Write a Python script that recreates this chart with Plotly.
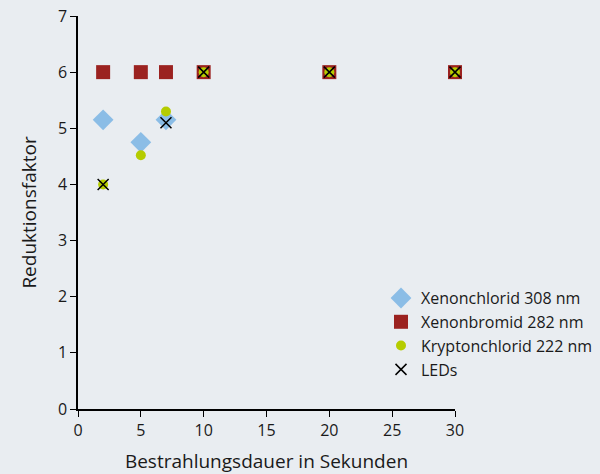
import plotly.graph_objects as go

xenonchlorid_x = [2, 5, 7]
xenonchlorid_y = [5.15, 4.75, 5.15]
xenonbromid_x = [2, 5, 7, 10, 20, 30]
xenonbromid_y = [6, 6, 6, 6, 6, 6]
krypton_x = [2, 5, 7, 10, 20, 30]
krypton_y = [4.0, 4.52, 5.3, 6, 6, 6]
led_x = [2, 7, 10, 20, 30]
led_y = [4.0, 5.1, 6, 6, 6]

FONT = "Open Sans"
fig = go.Figure()
fig.add_trace(go.Scatter(x=xenonchlorid_x, y=xenonchlorid_y, mode="markers",
                         name="Xenonchlorid 308 nm", cliponaxis=False,
                         marker=dict(symbol="diamond", size=16, color="#8bbde6")))
fig.add_trace(go.Scatter(x=xenonbromid_x, y=xenonbromid_y, mode="markers",
                         name="Xenonbromid 282 nm", cliponaxis=False,
                         marker=dict(symbol="square", size=14, color="#9b2220")))
fig.add_trace(go.Scatter(x=krypton_x, y=krypton_y, mode="markers",
                         name="Kryptonchlorid 222 nm", cliponaxis=False,
                         marker=dict(symbol="circle", size=10, color="#b5cc00")))
fig.add_trace(go.Scatter(x=led_x, y=led_y, mode="markers",
                         name="LEDs", cliponaxis=False,
                         marker=dict(symbol="x-thin-open", size=11,
                                     line=dict(color="black", width=1.5), color="black")))

fig.update_layout(
    width=600, height=474,
    paper_bgcolor="#e9edf1", plot_bgcolor="#e9edf1",
    margin=dict(l=78, r=145, t=16, b=65, autoexpand=False),
    font=dict(family=FONT, size=16, color="#1a1a1a"),
    showlegend=True,
    legend=dict(xref="container", yref="container", x=0.635, y=0.407,
                xanchor="left", yanchor="top",
                bgcolor="rgba(0,0,0,0)", font=dict(size=16, family=FONT),
                itemsizing="trace", tracegroupgap=0),
    xaxis=dict(range=[0, 30], tickvals=[0, 5, 10, 15, 20, 25, 30],
               showgrid=False, zeroline=False, showline=True, linecolor="black",
               linewidth=1.5, ticks="outside", ticklen=6, tickcolor="black",
               automargin=False,
               title=dict(text="Bestrahlungsdauer in Sekunden", font=dict(size=19), standoff=18)),
    yaxis=dict(range=[0, 7], tickvals=[0, 1, 2, 3, 4, 5, 6, 7],
               showgrid=False, zeroline=False, showline=True, linecolor="black",
               linewidth=1.5, ticks="outside", ticklen=6, tickcolor="black",
               automargin=False,
               title=dict(text="Reduktionsfaktor", font=dict(size=19), standoff=16)),
)
fig.write_html("out.html", config={"displayModeBar": False},
               post_script="document.body.style.margin='0';document.body.style.background='#e9edf1';")
